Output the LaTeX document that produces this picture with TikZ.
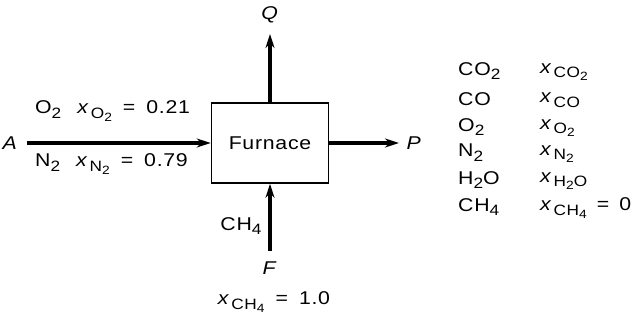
\documentclass[tikz,border=0pt]{standalone}
\usepackage{fontspec}
\setmainfont[LetterSpace=4,FakeStretch=1.15]{Liberation Sans}
\usetikzlibrary{arrows.meta}
\newcommand\lo[1]{\raisebox{-0.5ex}{\fontsize{15}{15}\selectfont #1}}
\newcommand\llo[1]{\raisebox{-0.35ex}{\fontsize{12}{12}\selectfont #1}}
\newcommand\xv{\textit{x}\hspace{1.5pt}}
\newcommand\eq{\hspace{11pt}=\hspace{11pt}}
\begin{document}
\begin{tikzpicture}[x=1pt,y=-1pt,
  lbl/.style={font=\fontsize{18.5}{18.5}\selectfont, inner sep=0pt},
  flow/.style={line width=3.4pt,-{Stealth[length=14pt,width=9pt]}},
  unit/.style={draw, line width=1.6pt, minimum width=117pt, minimum height=80pt, inner sep=0pt}]
\useasboundingbox (0,0) rectangle (640,326);
\node[unit, lbl] (furn) at (270,143) {Furnace};
\node[lbl] (A) at (10,143) {\textit{A}};
\node[lbl] (P) at (414,143) {\textit{P}};
\node[lbl] (Q) at (270,15) {\textit{Q}};
\node[lbl] (F) at (270,268) {\textit{F}};
\coordinate (ain) at (27,143);
\coordinate (pout) at (399,143);
\coordinate (qout) at (270,34);
\coordinate (fin) at (270,251);
\draw[flow] (ain) -- (furn.west);
\draw[flow] (furn.east) -- (pout);
\draw[flow] (furn.north) -- (qout);
\draw[flow] (fin) -- (furn.south);
\node[lbl, anchor=west] (o2) at (35,111) {O\lo{2}\hspace{16pt}\xv\lo{O\llo{2}}\eq0.21};
\node[lbl, anchor=west] (n2) at (35,164) {N\lo{2}\hspace{16pt}\xv\lo{N\llo{2}}\eq0.79};
\node[lbl] (ch4) at (241,226) {CH\lo{4}};
\node[lbl] (xf) at (274,302) {\xv\lo{CH\llo{4}}\eq1.0};
\node[lbl, anchor=west] (c1) at (458,71) {CO\lo{2}};
\node[lbl, anchor=west] (c2) at (458,99) {CO};
\node[lbl, anchor=west] (c3) at (458,127) {O\lo{2}};
\node[lbl, anchor=west] (c4) at (458,153) {N\lo{2}};
\node[lbl, anchor=west] (c5) at (458,180) {H\lo{2}O};
\node[lbl, anchor=west] (c6) at (458,207) {CH\lo{4}};
\node[lbl, anchor=west] (d1) at (540,72) {\xv\lo{CO\llo{2}}};
\node[lbl, anchor=west] (d2) at (540,100) {\xv\lo{CO}};
\node[lbl, anchor=west] (d3) at (540,128) {\xv\lo{O\llo{2}}};
\node[lbl, anchor=west] (d4) at (540,154) {\xv\lo{N\llo{2}}};
\node[lbl, anchor=west] (d5) at (540,181) {\xv\lo{H\llo{2}O}};
\node[lbl, anchor=west] (d6) at (540,208) {\xv\lo{CH\llo{4}}\hspace{10pt}=\hspace{10pt}0};
\end{tikzpicture}
\end{document}
